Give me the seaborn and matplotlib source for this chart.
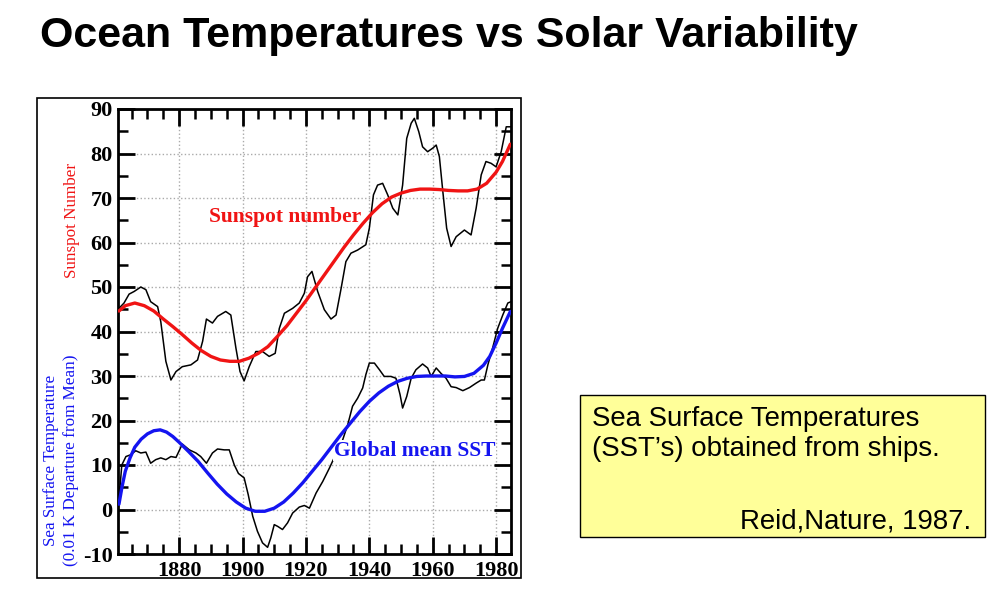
#Making imports
import pandas as pd
import matplotlib.pyplot as plt
import seaborn as sns
from matplotlib.ticker import MultipleLocator
from matplotlib.patches import Rectangle

#Values
sun_years = [1861, 1862.6, 1864.2, 1865.8, 1867.9, 1869.5, 1871, 1873.2, 1874.2, 1875.8,
             1877.4, 1879, 1881, 1883.7, 1885.8, 1887.4, 1888.6, 1890.5, 1892.1, 1894.7,
             1896.3, 1897.9, 1899.2, 1900.5, 1902.1, 1904.2, 1906.3, 1908.4, 1910.3, 1911.6,
             1913.2, 1915.8, 1917.9, 1919.5, 1920.5, 1921.9, 1923.7, 1925.8, 1927.9, 1929.5,
             1931.1, 1932.6, 1934.2, 1936.3, 1938.9, 1940, 1941.3, 1942.6, 1944.2, 1945.8,
             1947.4, 1949, 1950.5, 1951.8, 1953.2, 1954.2, 1955.6, 1956.8, 1958.4, 1960,
             1961.1, 1962.1, 1963.2, 1964.4, 1965.8, 1967.4, 1970, 1972.1, 1973.7, 1975.3,
             1976.8, 1978.4, 1980, 1981.6, 1983.2, 1984.7]
sun_raw = [45.2, 46.4, 48.4, 49, 50, 49.4, 46.7, 45.6, 42.2, 33.3,
           29.1, 31, 32.1, 32.5, 33.6, 37.8, 42.8, 41.9, 43.4, 44.5,
           43.7, 36.3, 31, 28.9, 32.1, 35.5, 35.5, 34.4, 35.1, 40.7,
           44.1, 45.2, 46.4, 48.6, 52.3, 53.5, 49, 44.9, 42.8, 43.7,
           49.7, 55.7, 57.6, 58.3, 59.5, 63.2, 70.7, 72.9, 73.3, 70.7,
           67.7, 66.2, 72.9, 83.4, 86.8, 87.9, 84.9, 81.5, 80.4, 81.2,
           81.9, 79.3, 71.4, 63.2, 59.1, 61.3, 62.8, 61.7, 67.7, 75.2,
           78.2, 77.8, 77, 80.4, 86, 86]

sun_fit_years = [1861, 1863, 1866, 1869, 1872, 1875, 1878, 1881, 1884, 1887, 1890, 1893,
                 1896, 1899, 1902, 1905, 1908, 1911, 1914, 1917, 1920, 1923, 1926, 1929,
                 1932, 1935, 1938, 1941, 1944, 1947, 1950, 1953, 1956, 1959, 1962, 1965,
                 1968, 1971, 1974, 1977, 1980, 1982, 1984.5]
sun_fit = [44.6, 45.8, 46.4, 45.8, 44.6, 42.8, 41.1, 39.3, 37.4, 35.7, 34.4, 33.6,
           33.3, 33.3, 34, 35.1, 36.6, 38.9, 41.3, 44.1, 46.9, 49.9, 52.9, 55.9,
           58.9, 61.7, 64.3, 66.7, 68.7, 70.2, 71.1, 71.7, 72, 72, 71.9, 71.7,
           71.6, 71.6, 72, 73.3, 75.8, 78.2, 82.1]

sst_years = [1861, 1861.9, 1863.2, 1864.7, 1866.3, 1867.9, 1869.5, 1871, 1872.6, 1874.2,
             1875.8, 1877.4, 1879, 1881, 1883.2, 1885.3, 1886.8, 1888.6, 1890.5, 1892.1,
             1894.2, 1895.8, 1897.4, 1898.7, 1900.5, 1901.8, 1903.2, 1904.7, 1906.3, 1907.9,
             1908.9, 1910, 1911.1, 1912.6, 1914.2, 1915.8, 1917.9, 1919.5, 1921.1, 1923.2,
             1925.3, 1927.4, 1928.9, 1931.1, 1933.2, 1934.7, 1936.3, 1937.9, 1938.9, 1940,
             1941.6, 1943.2, 1944.7, 1946.8, 1948.4, 1949.7, 1950.5, 1951.8, 1953.2, 1954.7,
             1956.8, 1958.4, 1959.5, 1961.1, 1962.6, 1964.2, 1965.8, 1967.4, 1969.5, 1971.6,
             1973.7, 1975.3, 1976.3, 1977.4, 1978.9, 1980.5, 1982.1, 1983.7, 1984.7]
sst_raw = [2.2, 10, 11.9, 12.3, 13.2, 12.7, 12.9, 10.4, 11.2, 11.6,
           11.2, 11.9, 11.7, 14.7, 13.4, 12.7, 11.9, 10.4, 12.7, 13.6,
           13.4, 13.4, 10, 8.1, 7.1, 3.3, -1.5, -4.9, -7.5, -8.5,
           -6.4, -3.4, -3.8, -4.5, -3, -0.8, 0.55, 0.9, 0.3, 3.7,
           6.3, 9.3, 11.6, 14.6, 19.1, 23.2, 25, 27.3, 30.3, 32.9,
           32.9, 31.4, 29.9, 29.9, 29.5, 25.8, 22.8, 25.4, 29.5, 31.4,
           32.7, 31.8, 29.9, 31.8, 30.6, 29.5, 27.6, 27.4, 26.7, 27.4,
           28.4, 29.1, 29.1, 32.5, 36.3, 40.7, 43.7, 46.4, 46.7]

sst_fit_years = [1861, 1862, 1863, 1864.5, 1866, 1868, 1870, 1872, 1874, 1876, 1878, 1880,
                 1883, 1886, 1889, 1892, 1895, 1898, 1901, 1904, 1907, 1910, 1913, 1916,
                 1919, 1922, 1925, 1928, 1931, 1934, 1937, 1940, 1943, 1946, 1949, 1952,
                 1955, 1958, 1961, 1964, 1967, 1970, 1973, 1976, 1978, 1980, 1982, 1984.5]
sst_fit = [1.2, 5.2, 8.6, 11.6, 14, 15.8, 17, 17.7, 17.9, 17.4, 16.4, 15.1,
           13, 10.8, 8.2, 5.7, 3.5, 1.7, 0.3, -0.4, -0.4, 0.3, 1.7, 3.7,
           6, 8.6, 11.2, 14, 16.8, 19.4, 22, 24.3, 26.2, 27.7, 28.8, 29.5,
           29.9, 30, 30, 30, 29.8, 29.9, 30.6, 32.4, 34.4, 37.4, 40.7, 44.5]

year_ticks = [1880, 1900, 1920, 1940, 1960, 1980]
value_ticks = [-10, 0, 10, 20, 30, 40, 50, 60, 70, 80, 90]

#Building the frames
df_sun = pd.DataFrame({'year': sun_years, 'value': sun_raw})
df_sun_fit = pd.DataFrame({'year': sun_fit_years, 'value': sun_fit})
df_sst = pd.DataFrame({'year': sst_years, 'value': sst_raw})
df_sst_fit = pd.DataFrame({'year': sst_fit_years, 'value': sst_fit})

sns.set_style('ticks')
plt.rcParams['font.family'] = ['Liberation Serif', 'DejaVu Serif']
plt.rcParams['axes.unicode_minus'] = False
plt.rcParams['text.color'] = 'black'
plt.rcParams['axes.edgecolor'] = 'black'
plt.rcParams['xtick.color'] = 'black'
plt.rcParams['ytick.color'] = 'black'

red = '#f01414'
blue = '#1414f0'

fig = plt.figure(figsize=(9.94, 5.93), dpi=100)
ax = fig.add_axes([118 / 994, 1 - 554 / 593, 393 / 994, 445 / 593])

#Raw curves in black, smooth fits in colour
sns.lineplot(data=df_sun, x='year', y='value', color='black', lw=1.1, sort=False, ax=ax, zorder=2)
sns.lineplot(data=df_sst, x='year', y='value', color='black', lw=1.1, sort=False, ax=ax, zorder=2)
sns.lineplot(data=df_sun_fit, x='year', y='value', color=red, lw=2.4, sort=False, ax=ax, zorder=3)
sns.lineplot(data=df_sst_fit, x='year', y='value', color=blue, lw=2.4, sort=False, ax=ax, zorder=3)

#Axis setup
ax.set_xlim(1860.7, 1984.7)
ax.set_ylim(-10, 90)
ax.set_xticks(year_ticks)
ax.set_yticks(value_ticks)
ax.xaxis.set_minor_locator(MultipleLocator(5))
ax.yaxis.set_minor_locator(MultipleLocator(5))
ax.tick_params(which='major', direction='in', top=True, right=True, length=12, width=2, pad=5)
ax.tick_params(which='minor', direction='in', top=True, right=True, length=7, width=1.8)
ax.tick_params(axis='y', which='major', pad=4)
for lab in ax.get_xticklabels() + ax.get_yticklabels():
    lab.set_fontsize(16)
    lab.set_fontweight('bold')
for sp in ax.spines.values():
    sp.set_linewidth(2)
ax.grid(True, which='major', linestyle=':', color='#aaaaaa', lw=1)
ax.set_xlabel('')
ax.set_ylabel('')

#Curve labels
ax.text(1889.5, 65.8, 'Sunspot number', color=red, fontsize=15.5, fontweight='bold',
        ha='left', va='center', zorder=4)
ax.text(1928.7, 13.2, 'Global mean SST', color=blue, fontsize=15.5, fontweight='bold',
        ha='left', va='center', zorder=2.5,
        bbox=dict(facecolor='white', edgecolor='none', pad=0.5))

#Axis titles
fig.text(72 / 994, 1 - 220 / 593, 'Sunspot Number', color=red, fontsize=12.3,
         rotation=90, ha='center', va='center')
fig.text(51 / 994, 1 - 460 / 593, 'Sea Surface Temperature', color=blue, fontsize=12.3,
         rotation=90, ha='center', va='center')
fig.text(71 / 994, 1 - 460 / 593, '(0.01 K Departure from Mean)', color=blue, fontsize=12.3,
         rotation=90, ha='center', va='center')

#Frame around the chart
fig.add_artist(Rectangle((37 / 994, 1 - 578 / 593), 484 / 994, 480 / 593,
                         transform=fig.transFigure, fill=False, edgecolor='black', lw=1.2))

#Title
sans = ['Liberation Sans', 'DejaVu Sans']
fig.text(40 / 994, 1 - 46.5 / 593, 'Ocean Temperatures vs Solar Variability',
         family=sans, fontsize=31, fontweight='bold', color='black',
         ha='left', va='baseline')

#Yellow note box
fig.add_artist(Rectangle((580 / 994, 1 - 536.5 / 593), 405 / 994, 142 / 593,
                         transform=fig.transFigure, facecolor='#ffff99', edgecolor='black', lw=1))
fig.text(592 / 994, 1 - 426.5 / 593, 'Sea Surface Temperatures', family=sans, fontsize=19.9,
         ha='left', va='baseline')
fig.text(592 / 994, 1 - 456.5 / 593, '(SST\u2019s) obtained from ships.', family=sans, fontsize=19.9,
         ha='left', va='baseline')
fig.text(971 / 994, 1 - 528 / 593, 'Reid,Nature, 1987.', family=sans, fontsize=19.9,
         ha='right', va='baseline')

fig.savefig('out.png', dpi=100)
